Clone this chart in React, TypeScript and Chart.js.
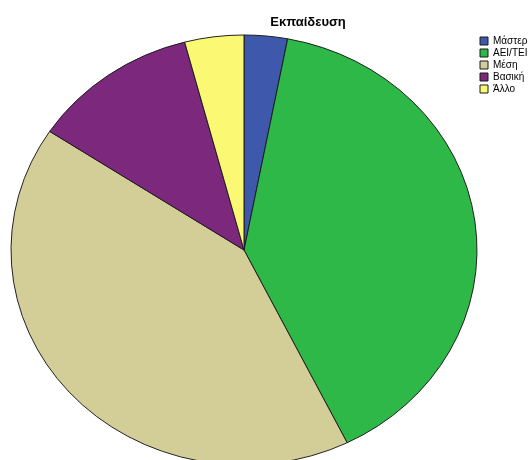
import React, { useEffect, useRef } from "react";
import { Chart, registerables } from "chart.js";

Chart.register(...registerables);

const titleText = "Εκπαίδευση";
const categories = ["Μάστερ", "ΑΕΙ/ΤΕΙ", "Μέση", "Βασική", "Άλλο"];
const percentages = [3.0, 39.7, 41.6, 11.6, 4.1];
const sliceColors = ["#3E58AC", "#2EB848", "#D3CE97", "#7C287D", "#FBF873"];

const FONT = '"Liberation Sans", Arial, sans-serif';

const ellipsePlugin = {
  id: "ellipse",
  beforeDatasetsDraw(chart: any, _args: any, opts: any) {
    const { ctx, chartArea } = chart;
    const cx = (chartArea.left + chartArea.right) / 2;
    const cy = (chartArea.top + chartArea.bottom) / 2;
    ctx.save();
    ctx.translate(cx, cy);
    ctx.scale(1, opts.ratio ?? 1);
    ctx.translate(-cx, -cy);
  },
  afterDatasetsDraw(chart: any) {
    chart.ctx.restore();
  },
};

const titlePlugin = {
  id: "placedTitle",
  afterDraw(chart: any, _args: any, opts: any) {
    const { ctx } = chart;
    ctx.save();
    ctx.font = `bold ${opts.size}px ${FONT}`;
    ctx.fillStyle = "#000";
    ctx.textAlign = "center";
    ctx.textBaseline = "middle";
    ctx.fillText(opts.text, opts.x, opts.y);
    ctx.restore();
  },
};

export default function App() {
  const ref = useRef<HTMLCanvasElement | null>(null);

  useEffect(() => {
    if (!ref.current) return;
    Chart.defaults.font.family = FONT;
    const chart = new Chart(ref.current, {
      type: "pie",
      data: {
        labels: categories,
        datasets: [
          {
            data: percentages,
            backgroundColor: sliceColors,
            borderColor: "#1a1a1a",
            borderWidth: 1,
            hoverOffset: 0,
            radius: 233,
            clip: false,
          } as any,
        ],
      },
      options: {
        responsive: false,
        animation: false,
        layout: { padding: { left: 10, top: 34, right: 0, bottom: 0 } },
        plugins: {
          legend: {
            position: "right",
            align: "start",
            maxWidth: 51,
            labels: {
              boxWidth: 8,
              boxHeight: 8,
              padding: 2,
              color: "#000",
              font: { size: 10, family: FONT },
            },
          },
          title: { display: false },
          tooltip: { enabled: false },
          ellipse: { ratio: 215 / 233 },
          placedTitle: { text: titleText, x: 308, y: 22, size: 13 },
        } as any,
      },
      plugins: [ellipsePlugin, titlePlugin],
    });
    return () => chart.destroy();
  }, []);

  return (
    <div
      style={{
        position: "fixed",
        top: 0,
        left: 0,
        width: 529,
        height: 460,
        overflow: "hidden",
        background: "#fff",
      }}
    >
      <canvas ref={ref} width={529} height={466} style={{ width: 529, height: 466, display: "block" }} />
    </div>
  );
}
